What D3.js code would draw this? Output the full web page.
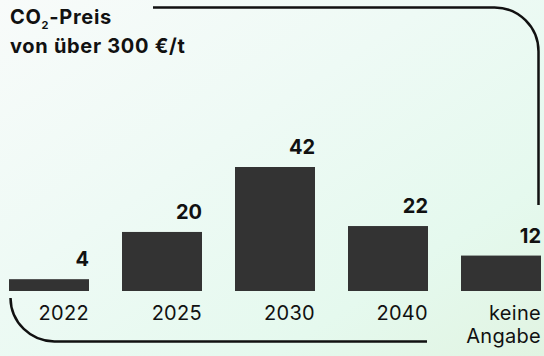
<!DOCTYPE html>
<html><head><meta charset="utf-8">
<script src="https://cdn.jsdelivr.net/npm/d3@7"></script>
<style>html,body{margin:0;padding:0;overflow:hidden}svg{display:block}</style>
</head><body>
<script>
const categories = ["2022", "2025", "2030", "2040", "keine Angabe"];
const values = [4, 20, 42, 22, 12];
const titleLines = ["CO₂-Preis", "von über 300 €/t"];

const W = 544, H = 356;
const svg = d3.select("body").append("svg").attr("width", W).attr("height", H);
const defs = svg.append("defs");
const g = defs.append("linearGradient").attr("id", "bg").attr("x1", "0").attr("y1", "0").attr("x2", "1").attr("y2", "1");
g.append("stop").attr("offset", "0").attr("stop-color", "#f8fbfa");
g.append("stop").attr("offset", "0.4").attr("stop-color", "#eefaf5");
g.append("stop").attr("offset", "0.75").attr("stop-color", "#e5f9ee");
g.append("stop").attr("offset", "1").attr("stop-color", "#e1f4e2");
svg.append("rect").attr("width", W).attr("height", H).attr("fill", "url(#bg)");

const font = "Inter, 'DejaVu Sans', sans-serif";
const x = d3.scaleBand().domain(categories).range([9, 541]).paddingInner(33 / 113).paddingOuter(0);
const y = d3.scaleLinear().domain([0, 42]).range([291, 167]);

// brackets
const lineCol = "#111";
svg.append("path")
  .attr("d", "M153,7.5 H494 A44,44 0 0 1 538.5,51.5 V205")
  .attr("fill", "none").attr("stroke", lineCol).attr("stroke-width", 2.5);
svg.append("path")
  .attr("d", "M10.5,298 A44,44 0 0 0 55,341.5 H427")
  .attr("fill", "none").attr("stroke", lineCol).attr("stroke-width", 2.5);

// title
const t = svg.append("text").attr("font-family", font).attr("font-weight", 700).attr("font-size", 20).attr("letter-spacing", 0.7).attr("fill", "#111");
t.append("tspan").attr("x", 10).attr("y", 24).text("CO");
t.append("tspan").attr("font-size", 11).attr("dy", 5).text("2");
t.append("tspan").attr("dy", -5).text("-Preis");
svg.append("text").attr("x", 10).attr("y", 53).attr("font-family", font).attr("font-weight", 700).attr("font-size", 20).attr("letter-spacing", 0.7).attr("fill", "#111").text(titleLines[1]);

// bars
svg.selectAll("rect.bar").data(values).join("rect").attr("class", "bar")
  .attr("x", (d, i) => x(categories[i])).attr("width", x.bandwidth())
  .attr("y", d => y(d)).attr("height", d => y(0) - y(d)).attr("fill", "#333333");

// value labels
svg.selectAll("text.val").data(values).join("text").attr("class", "val")
  .attr("x", (d, i) => x(categories[i]) + x.bandwidth()).attr("y", d => y(d) - 13)
  .attr("text-anchor", "end").attr("font-family", font).attr("font-weight", 700).attr("font-size", 20).attr("fill", "#111")
  .text(d => d);

// category labels
categories.forEach(c => {
  const parts = c === "keine Angabe" ? ["keine", "Angabe"] : [c];
  parts.forEach((p, j) => {
    svg.append("text").attr("x", x(c) + x.bandwidth()).attr("y", 320 + j * 23)
      .attr("text-anchor", "end").attr("font-family", font).attr("font-size", 20).attr("letter-spacing", 0.3).attr("fill", "#111").text(p);
  });
});
</script>
</body></html>
